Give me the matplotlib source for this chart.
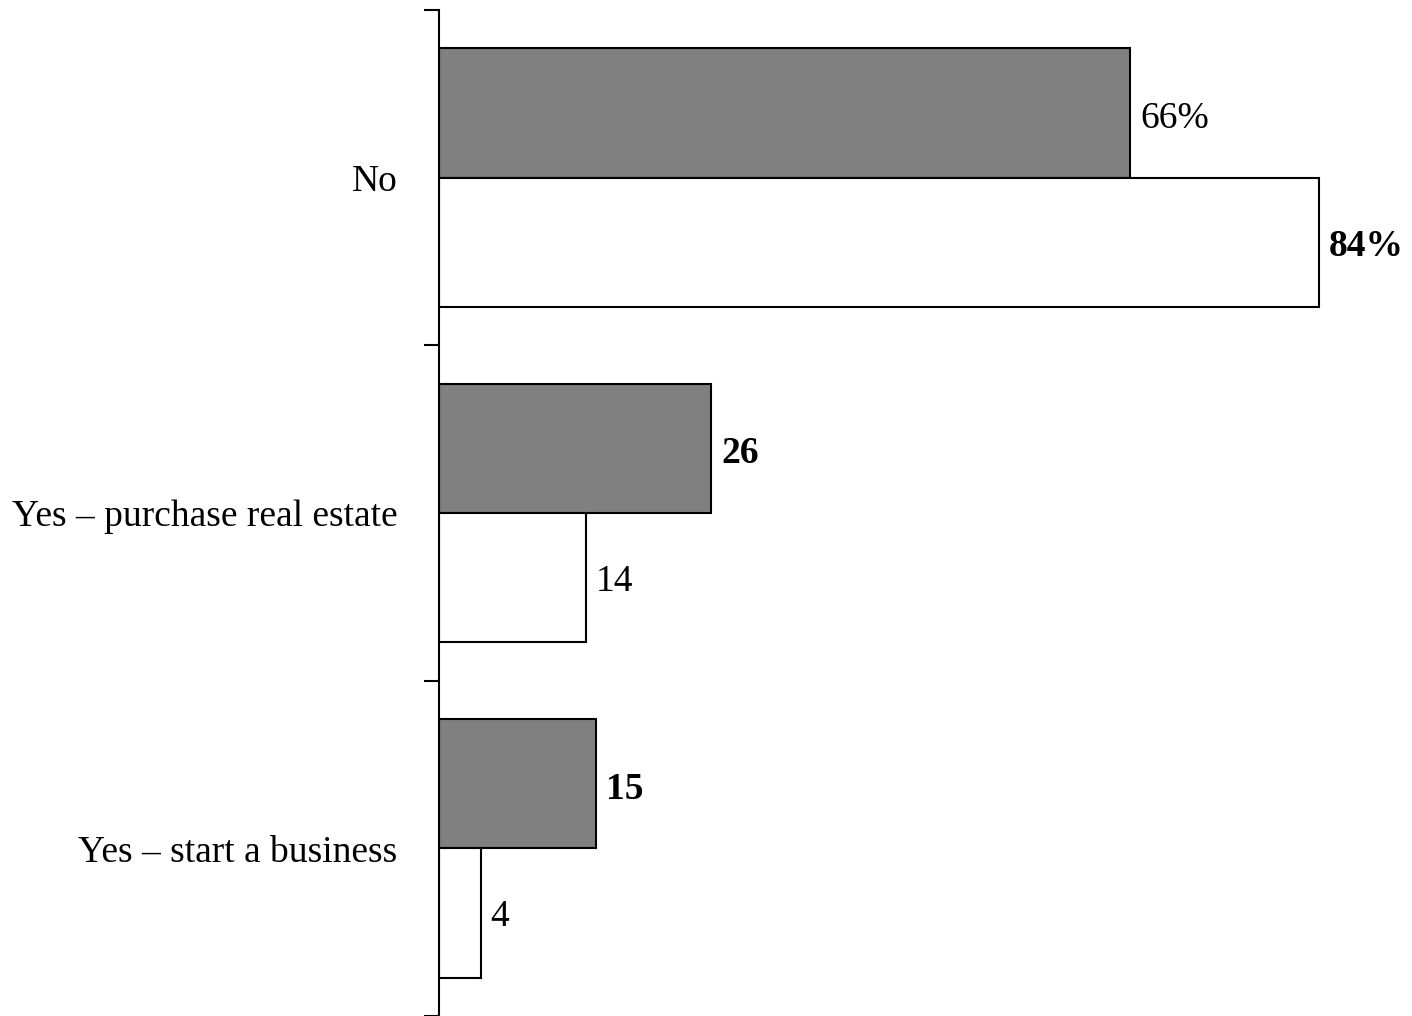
import numpy as np
import matplotlib.pyplot as plt
import matplotlib.transforms as mtransforms

# === Data ===
categories = ["No", "Yes – purchase real estate", "Yes – start a business"]
series_a = [66, 26, 15]    # gray bars
series_b = [84, 14, 4]     # white bars
labels_a = ["66%", "26", "15"]
labels_b = ["84%", "14", "4"]
bold_a = [False, True, True]
bold_b = [True, False, False]

plt.rcParams['font.family'] = ['Liberation Serif', 'DejaVu Serif']
FS = 27

fig = plt.figure(figsize=(14.12, 10.16), dpi=100)
ax = fig.add_axes([439 / 1412, 1 - 1016 / 1016, 1 - 439 / 1412, 1006 / 1016])

y = np.arange(len(categories))
h = 0.386
ax.barh(y - h / 2, series_a, height=h, color='#808080', edgecolor='black', linewidth=1.5)
ax.barh(y + h / 2, series_b, height=h, color='white', edgecolor='black', linewidth=1.5)

for i in range(len(categories)):
    ax.annotate(labels_a[i], (series_a[i], y[i] - h / 2), xytext=(7, -4), textcoords='offset points',
                ha='left', va='center', fontsize=FS, fontweight='bold' if bold_a[i] else 'normal')
    ax.annotate(labels_b[i], (series_b[i], y[i] + h / 2), xytext=(7, -3), textcoords='offset points',
                ha='left', va='center', fontsize=FS, fontweight='bold' if bold_b[i] else 'normal')

ax.set_xlim(0, 92.9)
ax.set_ylim(len(categories) - 0.5, -0.5)

ax.set_yticks(y)
ax.set_yticklabels(categories, fontsize=FS)
# nudge category labels down a little
shift = mtransforms.ScaledTranslation(0, -4 / 72, fig.dpi_scale_trans)
for t in ax.get_yticklabels():
    t.set_transform(t.get_transform() + shift)
ax.set_yticks(np.arange(len(categories) + 1) - 0.5, minor=True)
ax.tick_params(axis='y', which='major', length=0, pad=30)
ax.tick_params(axis='y', which='minor', length=11, width=1.5, direction='out')
ax.set_xticks([])

for s in ['top', 'right', 'bottom']:
    ax.spines[s].set_visible(False)
ax.spines['left'].set_linewidth(1.5)

fig.savefig("out.png", dpi=100)
